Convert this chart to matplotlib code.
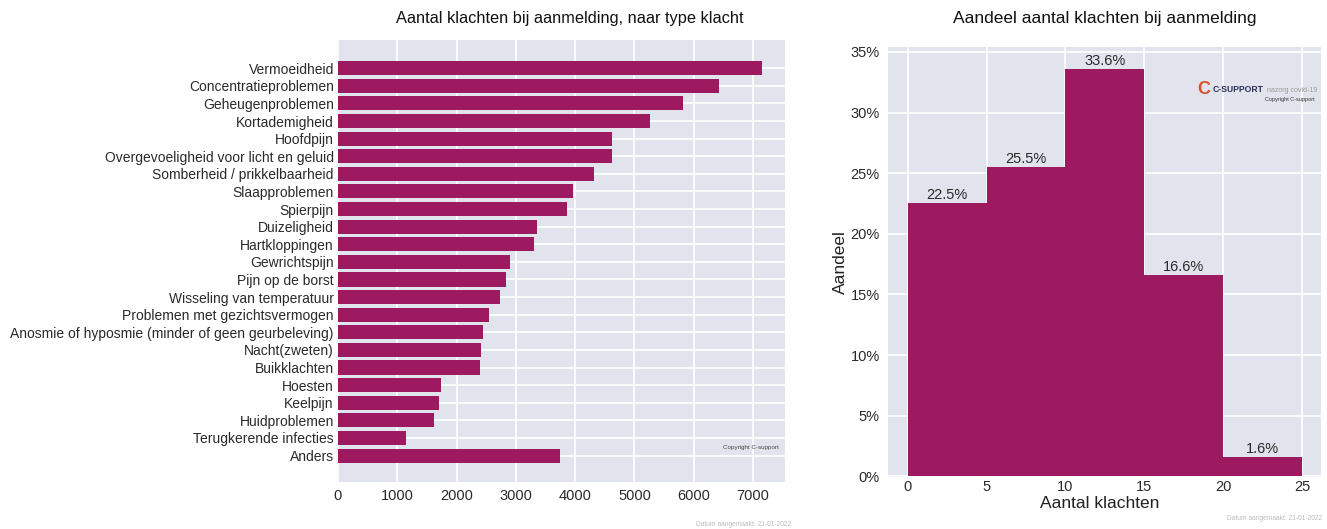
import matplotlib.pyplot as plt
from matplotlib.ticker import FuncFormatter

plt.rcParams['font.family'] = ['Liberation Sans', 'DejaVu Sans']

# klachten per type
klachten = ['Vermoeidheid', 'Concentratieproblemen', 'Geheugenproblemen', 'Kortademigheid',
            'Hoofdpijn', 'Overgevoeligheid voor licht en geluid', 'Somberheid / prikkelbaarheid',
            'Slaapproblemen', 'Spierpijn', 'Duizeligheid', 'Hartkloppingen', 'Gewrichtspijn',
            'Pijn op de borst', 'Wisseling van temperatuur', 'Problemen met gezichtsvermogen',
            'Anosmie of hyposmie (minder of geen geurbeleving)', 'Nacht(zweten)', 'Buikklachten',
            'Hoesten', 'Keelpijn', 'Huidproblemen', 'Terugkerende infecties', 'Anders']
aantallen = [7158, 6433, 5826, 5269, 4628, 4628, 4324, 3959, 3869, 3363, 3312, 2908,
             2840, 2739, 2553, 2452, 2418, 2401, 1744, 1698, 1614, 1142, 3739]

# verdeling aantal klachten per persoon
bin_start = [0, 5, 10, 15, 20]
aandeel = [22.5, 25.5, 33.6, 16.6, 1.6]

kleur = '#9e1a60'
achtergrond = '#e1e4ed'

W, H = 1327, 529
fig = plt.figure(figsize=(W / 100, H / 100), dpi=100)
ax1 = fig.add_axes([338 / W, 1 - 482 / H, 447 / W, 442 / H])
ax2 = fig.add_axes([888 / W, 1 - 477 / H, 433 / W, 430 / H])


def px(x, y):
    # pixelpositie (linksboven) naar figuurcoordinaten
    return x / W, 1 - y / H


for ax in (ax1, ax2):
    ax.set_facecolor(achtergrond)
    for s in ax.spines.values():
        s.set_visible(False)
    ax.grid(True, color='white', linewidth=1.2)
    ax.set_axisbelow(True)
    ax.tick_params(length=0, labelsize=10.5, colors='#2a2a2a')

# staafdiagram links
posities = list(range(len(klachten)))
ax1.barh(posities, aantallen, height=0.8, color=kleur)
ax1.set_yticks(posities)
ax1.set_yticklabels(klachten, fontsize=10)
ax1.set_ylim(23.5, -1.6)
ax1.set_xlim(0, 7540)
ax1.set_xticks(range(0, 8000, 1000))
ax1.tick_params(axis='y', pad=3)
ax1.tick_params(axis='x', pad=5)
ax1.text(0.985, 0.078, 'Copyright C-support', transform=ax1.transAxes, ha='right',
         va='center', fontsize=4.5, color='#444444')
fig.text(*px(570, 18), 'Aantal klachten bij aanmelding, naar type klacht',
         ha='center', va='center', fontsize=11.8, color='#111111')
fig.text(*px(791, 524), 'Datum aangemaakt: 21-01-2022', ha='right',
         va='center', fontsize=4.8, color='#bbbbbb')

# histogram rechts
ax2.bar(bin_start, aandeel, width=5, align='edge', color=kleur)
for x, v in zip(bin_start, aandeel):
    ax2.text(x + 2.5, v + 0.1, f'{v}%', ha='center', va='bottom', fontsize=10.5,
             color='#2a2a2a')
ax2.set_xlim(-1.25, 26.2)
ax2.set_ylim(-0.05, 35.4)
ax2.set_xticks(range(0, 30, 5))
ax2.set_yticks(range(0, 40, 5))
ax2.yaxis.set_major_formatter(FuncFormatter(lambda v, p: f'{int(v)}%'))
ax2.tick_params(axis='y', pad=6)
ax2.tick_params(axis='x', pad=2)
ax2.set_xlabel('Aantal klachten', fontsize=12.5, color='#222222')
ax2.xaxis.set_label_coords(0.49, -0.045)
ax2.set_ylabel('Aandeel', fontsize=12.5, color='#222222')
ax2.yaxis.set_label_coords(-0.092, 0.5)
fig.text(*px(1105, 19), 'Aandeel aantal klachten bij aanmelding',
         ha='center', va='center', fontsize=12.5, color='#111111')
fig.text(*px(1322, 518), 'Datum aangemaakt: 21-01-2022', ha='right',
         va='center', fontsize=4.8, color='#bbbbbb')

# logo C-support
fig.text(*px(1204, 90), 'C', ha='center', va='center', fontsize=13,
         fontweight='bold', color='#d8502e')
fig.text(*px(1213, 90), 'C-SUPPORT', ha='left', va='center', fontsize=6.2,
         fontweight='bold', color='#2b2f5a')
fig.text(*px(1317, 90), 'nazorg covid-19', ha='right', va='center', fontsize=5.1,
         color='#9a9a9a')
fig.text(*px(1315, 99), 'Copyright C-support', ha='right', va='center', fontsize=4,
         color='#333333')

fig.savefig('out.png', dpi=100)
